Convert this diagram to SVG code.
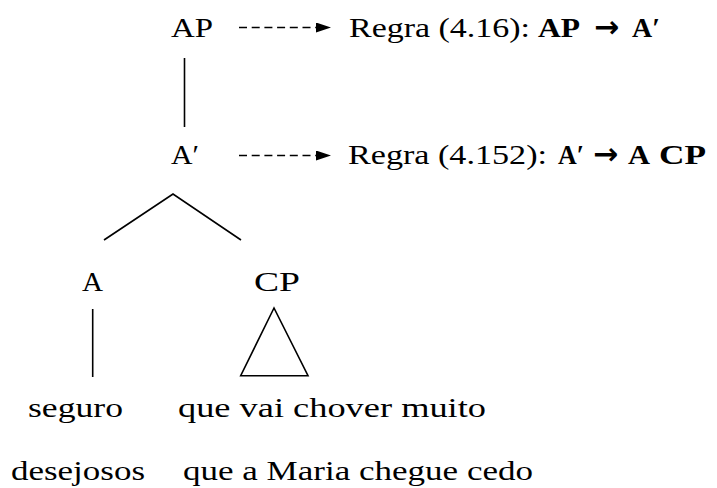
<svg xmlns="http://www.w3.org/2000/svg" width="717" height="488" viewBox="0 0 717 488">
<defs>
<style>
text { font-family: "Liberation Serif", "Times New Roman", serif; font-size: 27px; fill: #000; }
.b { font-weight: bold; }
.arr { font-family: "DejaVu Sans", sans-serif; font-weight: bold; font-size: 30px; }
.edge { stroke: #000; stroke-width: 1.6; fill: none; }
.dash { stroke: #000; stroke-width: 1.6; stroke-dasharray: 8 4.7; fill: none; }
</style>
<marker id="ah" viewBox="0 0 15 10" refX="0" refY="5" markerWidth="15" markerHeight="10" markerUnits="userSpaceOnUse" orient="auto">
<path d="M0,0 L15,5 L0,10 Z" fill="#000"/>
</marker>
</defs>
<rect width="717" height="488" fill="#fff"/>
<g id="connectors">
<line class="edge" x1="184.5" y1="58" x2="184.5" y2="127"/>
<polyline class="edge" points="104,240 173,194 241,240"/>
<line class="edge" x1="92.7" y1="309" x2="92.7" y2="377"/>
<polygon class="edge" points="274,308 240.7,375.7 308,375.7"/>
<line class="dash" x1="239" y1="27.5" x2="316" y2="27.5" marker-end="url(#ah)"/>
<line class="dash" x1="239" y1="155.5" x2="316" y2="155.5" marker-end="url(#ah)"/>
</g>
<g id="node-AP"><text x="171" y="37" textLength="42" lengthAdjust="spacingAndGlyphs">AP</text></g>
<g id="node-Abar"><text x="171" y="164" textLength="28" lengthAdjust="spacingAndGlyphs">A′</text></g>
<g id="node-A"><text x="82" y="291" textLength="21" lengthAdjust="spacingAndGlyphs">A</text></g>
<g id="node-CP"><text x="254" y="291" textLength="46" lengthAdjust="spacingAndGlyphs">CP</text></g>
<g id="leaf-seguro"><text x="28" y="417" textLength="95" lengthAdjust="spacingAndGlyphs">seguro</text></g>
<g id="leaf-chover"><text x="178" y="417" textLength="308" lengthAdjust="spacingAndGlyphs">que vai chover muito</text></g>
<g id="leaf-desejosos"><text x="11" y="480" textLength="134" lengthAdjust="spacingAndGlyphs">desejosos</text></g>
<g id="leaf-maria"><text x="183" y="480" textLength="350" lengthAdjust="spacingAndGlyphs">que a Maria chegue cedo</text></g>
<g id="rule-1">
<text x="349" y="37" textLength="181" lengthAdjust="spacingAndGlyphs">Regra (4.16):</text>
<text class="b" x="538" y="37" textLength="42" lengthAdjust="spacingAndGlyphs">AP</text>
<text class="arr" x="594" y="37">→</text>
<text class="b" x="632" y="37" textLength="28" lengthAdjust="spacingAndGlyphs">A′</text>
</g>
<g id="rule-2">
<text x="348" y="164" textLength="199" lengthAdjust="spacingAndGlyphs">Regra (4.152):</text>
<text class="b" x="558" y="164" textLength="26" lengthAdjust="spacingAndGlyphs">A′</text>
<text class="arr" x="593" y="164">→</text>
<text class="b" x="628" y="164" textLength="22" lengthAdjust="spacingAndGlyphs">A</text>
<text class="b" x="659" y="164" textLength="47" lengthAdjust="spacingAndGlyphs">CP</text>
</g>
</svg>
